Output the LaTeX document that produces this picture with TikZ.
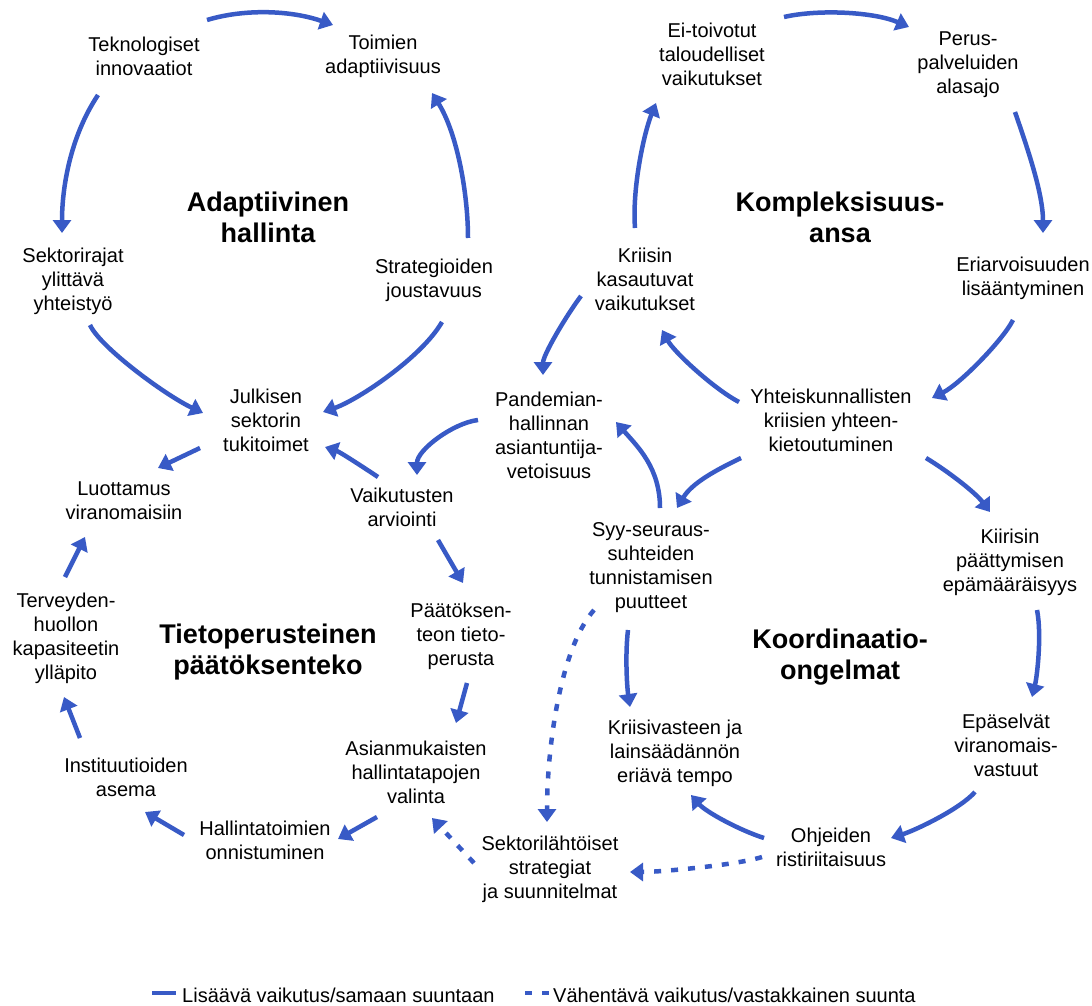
\documentclass[tikz,border=0pt]{standalone}
\usepackage{fontspec}
\setmainfont{Liberation Sans}
\usetikzlibrary{arrows.meta,calc}
\definecolor{linkblue}{RGB}{56,90,198}
\newcommand\lbl{\fontsize{20}{24}\selectfont}
\newcommand\ttl{\fontsize{27}{31}\selectfont\bfseries}
\begin{document}
\begin{tikzpicture}[x=1pt,y=-1pt,
  item/.style={inner sep=0pt,align=center,font=\lbl,text=black},
  title/.style={inner sep=0pt,align=center,font=\ttl,text=black},
  arr/.style={draw=linkblue,line width=4.5pt,-{Triangle[length=13pt,width=18pt]},fill=none},
  neg/.style={arr,dash pattern=on 7pt off 10pt}]
\fill[white] (0,0) rectangle (1092,1006);
\useasboundingbox (0,0) rectangle (1092,1006);

% --- Adaptiivinen hallinta
\node[item] (tek) at (144,56) {Teknologiset\\innovaatiot};
\node[item] (toi) at (383,56) {Toimien\\adaptiivisuus};
\node[item] (sek) at (73,281) {Sektorirajat\\ylittävä\\yhteistyö};
\node[item] (str) at (434,280) {Strategioiden\\joustavuus};
\node[title] (tA) at (268,217) {Adaptiivinen\\hallinta};
\node[item] (jul) at (266,420) {Julkisen\\sektorin\\tukitoimet};

% --- Tietoperusteinen päätöksenteko
\node[item] (luo) at (124,501) {Luottamus\\viranomaisiin};
\node[item] (vai) at (402,507) {Vaikutusten\\arviointi};
\node[item] (ter) at (66,638) {Terveyden-\\huollon\\kapasiteetin\\ylläpito};
\node[title] (tT) at (268,652) {Tietoperusteinen\\päätöksenteko};
\node[item] (paa) at (461,636) {Päätöksen-\\teon tieto-\\perusta};
\node[item] (ins) at (126,777) {Instituutioiden\\asema};
\node[item] (asi) at (416,772) {Asianmukaisten\\hallintatapojen\\valinta};
\node[item] (hal) at (265,840) {Hallintatoimien\\onnistuminen};
\node[item] (skt) at (550,869) {Sektorilähtöiset\\strategiat\\ja suunnitelmat};

% --- Koordinaatio-ongelmat
\node[item] (ohj) at (831,847) {Ohjeiden\\ristiriitaisuus};
\node[item] (kvt) at (675,753) {Kriisivasteen ja\\lainsäädännön\\eriävä tempo};
\node[item] (epa) at (1006,745) {Epäselvät\\viranomais-\\vastuut};
\node[title] (tK) at (840,657) {Koordinaatio-\\ongelmat};
\node[item] (kii) at (1010,562) {Kiirisin\\päättymisen\\epämääräisyys};
\node[item] (syy) at (651,568) {Syy-seuraus-\\suhteiden\\tunnistamisen\\puutteet};

% --- Kompleksisuusansa
\node[item] (yht) at (831,420) {Yhteiskunnallisten\\kriisien yhteen-\\kietoutuminen};
\node[item] (pan) at (549,435) {Pandemian-\\hallinnan\\asiantuntija-\\vetoisuus};
\node[item] (kas) at (645,279) {Kriisin\\kasautuvat\\vaikutukset};
\node[title] (tC) at (840,217) {Kompleksisuus-\\ansa};
\node[item] (eri) at (1023,278) {Eriarvoisuuden\\lisääntyminen};
\node[item] (eit) at (712,54) {Ei-toivotut\\taloudelliset\\vaikutukset};
\node[item] (per) at (968,65) {Perus-\\palveluiden\\alasajo};

% --- reinforcing links
\draw[arr] ($(tek)+(63,-36)$) .. controls +(40,-12) and +(-40,-14) .. ($(toi)+(-50,-31)$);
\draw[arr] ($(tek)+(-46,39)$) .. controls +(-28,42) and +(0,-45) .. ($(sek)+(-11,-48)$);
\draw[arr] ($(str)+(34,-42)$) .. controls +(0,-45) and +(25,40) .. ($(toi)+(49,37)$);
\draw[arr] ($(sek)+(17,44)$) .. controls +(10,22) and +(-38,-18) .. ($(jul)+(-63,-7)$);
\draw[arr] ($(str)+(8,42)$) .. controls +(-20,35) and +(35,-12) .. ($(jul)+(57,-8)$);
\draw[arr] ($(jul)+(-66,28)$) -- ($(luo)+(34,-33)$);
\draw[arr] ($(vai)+(-24,-30)$) .. controls +(-15,-10) and +(15,5) .. ($(jul)+(59,27)$);
\draw[arr] ($(pan)+(-71,-15)$) .. controls +(-25,3) and +(0,-25) .. ($(vai)+(15,-32)$);
\draw[arr] ($(vai)+(36,33)$) -- ($(paa)+(2,-53)$);
\draw[arr] ($(paa)+(6,47)$) -- ($(asi)+(40,-49)$);
\draw[arr] ($(ter)+(-1,-61)$) -- ($(luo)+(-39,36)$);
\draw[arr] ($(ins)+(-46,-39)$) -- ($(ter)+(-2,59)$);
\draw[arr] ($(hal)+(-81,-5)$) -- ($(ins)+(19,35)$);
\draw[arr] ($(asi)+(-39,45)$) -- ($(hal)+(73,-1)$);
\draw[arr] ($(syy)+(-23,62)$) .. controls +(-3,25) and +(-3,-20) .. ($(kvt)+(-45,-46)$);
\draw[arr] ($(syy)+(9,-60)$) .. controls +(0,-40) and +(22,25) .. ($(pan)+(67,-13)$);
\draw[arr] ($(yht)+(-90,38)$) .. controls +(-25,12) and +(15,-25) .. ($(syy)+(26,-60)$);
\draw[arr] ($(yht)+(95,38)$) .. controls +(20,12) and +(-15,-20) .. ($(kii)+(-20,-50)$);
\draw[arr] ($(yht)+(-92,-18)$) .. controls +(-25,-13) and +(12,22) .. ($(kas)+(17,51)$);
\draw[arr] ($(kas)+(-64,17)$) .. controls +(-15,20) and +(0,-20) .. ($(pan)+(-6,-60)$);
\draw[arr] ($(kas)+(-10,-51)$) .. controls +(-3,-40) and +(-12,30) .. ($(eit)+(-56,49)$);
\draw[arr] ($(eit)+(72,-37)$) .. controls +(35,-8) and +(-35,-15) .. ($(per)+(-59,-38)$);
\draw[arr] ($(per)+(47,47)$) .. controls +(12,35) and +(0,-40) .. ($(eri)+(20,-45)$);
\draw[arr] ($(eri)+(-10,42)$) .. controls +(-10,20) and +(28,-14) .. ($(yht)+(101,-22)$);
\draw[arr] ($(kii)+(27,48)$) .. controls +(5,25) and +(5,-20) .. ($(epa)+(26,-48)$);
\draw[arr] ($(epa)+(-31,47)$) .. controls +(-15,17) and +(25,-8) .. ($(ohj)+(60,-9)$);
\draw[arr] ($(ohj)+(-67,-9)$) .. controls +(-25,-8) and +(15,17) .. ($(kvt)+(16,42)$);

% --- balancing links
\draw[neg] ($(skt)+(-76,-6)$) -- ($(asi)+(16,46)$);
\draw[neg] ($(ohj)+(-69,10)$) .. controls +(-25,8) and +(30,0) .. ($(skt)+(80,3)$);
\draw[neg] ($(syy)+(-57,42)$) .. controls +(-35,40) and +(0,-70) .. ($(skt)+(-3,-47)$);

% --- legend
\coordinate (l1a) at (152,993);
\coordinate (l1b) at (176,993);
\coordinate (l2a) at (525,993);
\coordinate (l2b) at (550,993);
\draw[draw=linkblue,line width=4.5pt] (l1a) -- (l1b);
\draw[draw=linkblue,line width=4.5pt,dash pattern=on 7pt off 10pt] (l2a) -- (l2b);
\node[item,anchor=base west] (leg1) at (182,1002) {Lisäävä vaikutus/samaan suuntaan};
\node[item,anchor=base west] (leg2) at (553,1002) {Vähentävä vaikutus/vastakkainen suunta};
\end{tikzpicture}
\end{document}
